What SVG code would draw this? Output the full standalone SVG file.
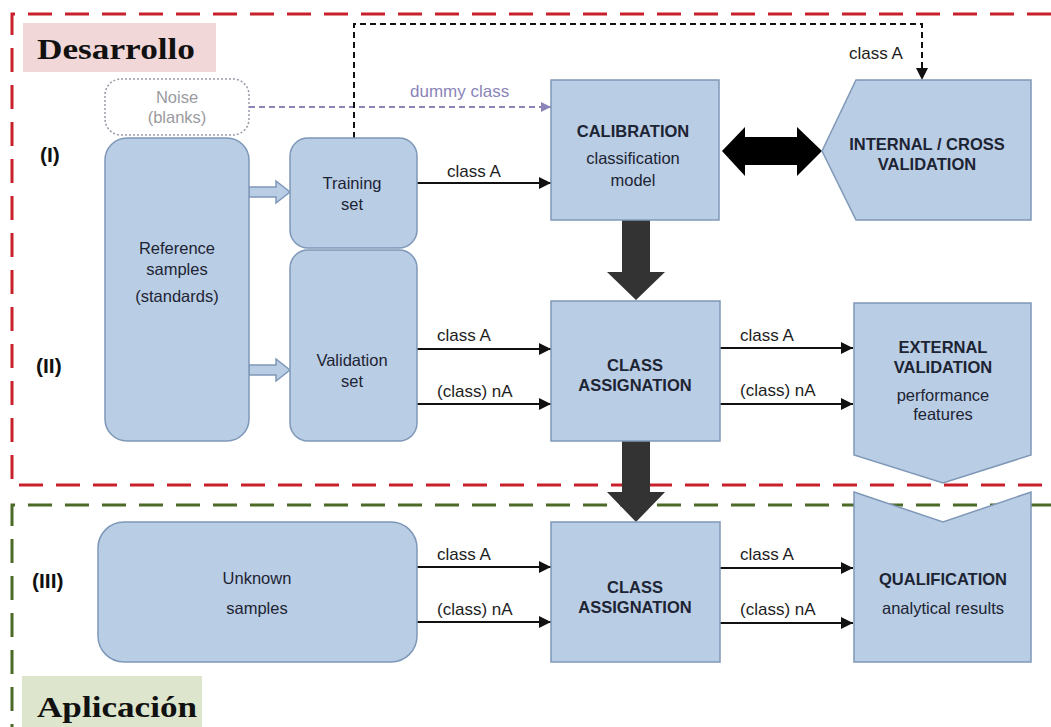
<svg xmlns="http://www.w3.org/2000/svg" width="1051" height="727" viewBox="0 0 1051 727">
  <defs>
    <style>
      .box { fill: #b9cde5; stroke: #7f98b8; stroke-width: 1.5; }
      .t { font-family: "Liberation Sans", Arial, sans-serif; font-size: 16.5px; fill: #1d2433; text-anchor: middle; }
      .b { font-weight: bold; font-size: 16.5px; }
      .lbl { font-family: "Liberation Sans", Arial, sans-serif; font-size: 17px; fill: #1d1d1d; }
      .roman { font-family: "Liberation Sans", Arial, sans-serif; font-size: 21px; font-weight: bold; fill: #111; }
      .phase { font-family: "Liberation Serif", "Times New Roman", serif; font-size: 29px; font-weight: bold; fill: #111; }
      .wire { stroke: #111; stroke-width: 2; fill: none; marker-end: url(#ah); }
      .hollow { fill: #b9cde5; stroke: #7f98b8; stroke-width: 1.5; }
      .block { fill: #333; }
    </style>
    <marker id="ah" viewBox="0 0 10 10" refX="10" refY="5" markerWidth="6" markerHeight="6" markerUnits="strokeWidth" orient="auto">
      <path d="M0,0 L10,5 L0,10 z" fill="#111"/>
    </marker>
    <marker id="ahp" viewBox="0 0 10 10" refX="10" refY="5" markerWidth="5" markerHeight="5" markerUnits="strokeWidth" orient="auto">
      <path d="M0,0 L10,5 L0,10 z" fill="#8a84b8"/>
    </marker>
  </defs>

  <rect width="1051" height="727" fill="#ffffff"/>

  <!-- phase frames -->
  <g id="frames" fill="none" stroke-width="3" stroke-dasharray="24,13">
    <path d="M1051,14 H12 V485 H1051" stroke="#c8202a"/>
    <path d="M1051,505 H12 V727" stroke="#4b6a27"/>
  </g>

  <g id="phase-desarrollo">
    <rect x="23" y="23" width="193" height="49" fill="#f1d7d7"/>
    <text class="phase" x="37" y="59" textLength="158" lengthAdjust="spacingAndGlyphs">Desarrollo</text>
  </g>
  <g id="phase-aplicacion">
    <rect x="22" y="676" width="180" height="51" fill="#dde6cc"/>
    <text class="phase" x="37" y="717" textLength="160" lengthAdjust="spacingAndGlyphs">Aplicación</text>
  </g>

  <g id="stage-labels">
    <text class="roman" x="40" y="162">(I)</text>
    <text class="roman" x="36" y="373">(II)</text>
    <text class="roman" x="32" y="588">(III)</text>
  </g>

  <!-- connectors -->
  <g id="connectors">
    <!-- hollow arrows from reference samples -->
    <path class="hollow" d="M249,187 H276 V181 L290,192 L276,203 V197 H249 Z"/>
    <path class="hollow" d="M249,365 H276 V359 L290,370 L276,381 V375 H249 Z"/>

    <!-- dummy class -->
    <path d="M249,107 H551" stroke="#8a84b8" stroke-width="2" stroke-dasharray="6,4" fill="none" marker-end="url(#ahp)"/>
    <text class="lbl" x="410" y="97" style="fill:#8a84b8">dummy class</text>

    <!-- training set to internal validation -->
    <path d="M354,138 V24 H922 V80" stroke="#111" stroke-width="2" stroke-dasharray="6,4" fill="none" marker-end="url(#ah)"/>
    <text class="lbl" x="849" y="59">class A</text>

    <!-- training to calibration -->
    <path class="wire" d="M417,183 H551"/>
    <text class="lbl" x="447" y="177">class A</text>

    <!-- calibration <-> internal validation -->
    <path d="M722,151 L745,127 V137 H797 V127 L822,151 L797,176 V165 H745 V176 Z" fill="#000"/>

    <!-- calibration to class assignation -->
    <path class="block" d="M622,220 H650 V272 H665 L636,300 L607,272 H622 Z"/>

    <!-- validation set to class assignation -->
    <path class="wire" d="M417,349 H551"/>
    <text class="lbl" x="437" y="341">class A</text>
    <path class="wire" d="M417,404 H551"/>
    <text class="lbl" x="437" y="397">(class) nA</text>

    <!-- class assignation to external validation -->
    <path class="wire" d="M720,348 H853"/>
    <text class="lbl" x="740" y="341">class A</text>
    <path class="wire" d="M720,404 H853"/>
    <text class="lbl" x="740" y="396">(class) nA</text>

    <!-- class assignation (II) to class assignation (III) -->
    <path class="block" d="M622,441 H650 V492 H665 L636,522 L607,492 H622 Z"/>

    <!-- unknown samples to class assignation -->
    <path class="wire" d="M417,567 H551"/>
    <text class="lbl" x="437" y="560">class A</text>
    <path class="wire" d="M417,622 H551"/>
    <text class="lbl" x="437" y="615">(class) nA</text>

    <!-- class assignation to qualification -->
    <path class="wire" d="M720,568 H853"/>
    <text class="lbl" x="740" y="560">class A</text>
    <path class="wire" d="M720,623 H853"/>
    <text class="lbl" x="740" y="615">(class) nA</text>
  </g>

  <g id="noise">
    <rect x="105" y="79" width="144" height="56" rx="16" fill="#ffffff" stroke="#9a9aa8" stroke-width="1.5" stroke-dasharray="2,2"/>
    <text class="t" x="177" y="103" style="fill:#9a9aa0">Noise</text>
    <text class="t" x="177" y="123" style="fill:#9a9aa0">(blanks)</text>
  </g>

  <g id="reference-samples">
    <rect class="box" x="105" y="138" width="144" height="303" rx="22"/>
    <text class="t" x="177" y="254">Reference</text>
    <text class="t" x="177" y="275">samples</text>
    <text class="t" x="177" y="302">(standards)</text>
  </g>

  <g id="training-set">
    <rect class="box" x="290" y="138" width="127" height="110" rx="18"/>
    <text class="t" x="352" y="189">Training</text>
    <text class="t" x="352" y="210">set</text>
  </g>

  <g id="validation-set">
    <rect class="box" x="290" y="250" width="127" height="191" rx="18"/>
    <text class="t" x="352" y="366">Validation</text>
    <text class="t" x="352" y="387">set</text>
  </g>

  <g id="calibration">
    <rect class="box" x="551" y="80" width="168" height="140"/>
    <text class="t b" x="633" y="137">CALIBRATION</text>
    <text class="t" x="633" y="164">classification</text>
    <text class="t" x="633" y="186">model</text>
  </g>

  <g id="internal-validation">
    <path class="box" d="M822,151 L856,80 H1031 V220 H856 Z"/>
    <text class="t b" x="927" y="150">INTERNAL / CROSS</text>
    <text class="t b" x="927" y="170">VALIDATION</text>
  </g>

  <g id="class-assignation-2">
    <rect class="box" x="551" y="301" width="169" height="140"/>
    <text class="t b" x="635" y="371">CLASS</text>
    <text class="t b" x="635" y="391">ASSIGNATION</text>
  </g>

  <g id="external-validation">
    <path class="box" d="M854,303 H1031 V455 L943,483 L854,455 Z"/>
    <text class="t b" x="943" y="353">EXTERNAL</text>
    <text class="t b" x="943" y="373">VALIDATION</text>
    <text class="t" x="943" y="401">performance</text>
    <text class="t" x="943" y="420">features</text>
  </g>

  <g id="unknown-samples">
    <rect class="box" x="98" y="522" width="319" height="140" rx="26"/>
    <text class="t" x="257" y="584">Unknown</text>
    <text class="t" x="257" y="614">samples</text>
  </g>

  <g id="class-assignation-3">
    <rect class="box" x="551" y="522" width="169" height="140"/>
    <text class="t b" x="635" y="593">CLASS</text>
    <text class="t b" x="635" y="613">ASSIGNATION</text>
  </g>

  <g id="qualification">
    <path class="box" d="M854,492 L943,522 L1031,492 V662 H854 Z"/>
    <text class="t b" x="943" y="585">QUALIFICATION</text>
    <text class="t" x="943" y="614">analytical results</text>
  </g>
</svg>
